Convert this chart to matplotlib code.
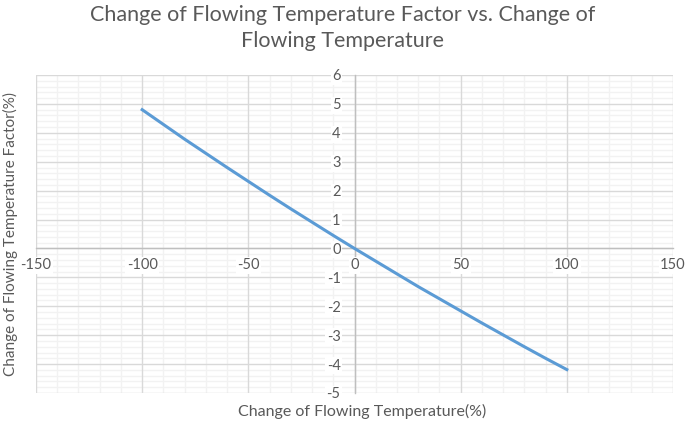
import matplotlib
matplotlib.use("Agg")
import matplotlib.pyplot as plt
from matplotlib.ticker import MultipleLocator

temp_change = [-100, -90, -80, -70, -60, -50, -40, -30, -20, -10, 0,
               10, 20, 30, 40, 50, 60, 70, 80, 90, 100]
factor_change = [4.80, 4.29, 3.78, 3.29, 2.80, 2.32, 1.84, 1.37, 0.91, 0.45, 0.0,
                 -0.44, -0.88, -1.32, -1.74, -2.16, -2.58, -2.99, -3.40, -3.80, -4.19]
x_ticks = [-150, -100, -50, 0, 50, 100, 150]
y_ticks = [-5, -4, -3, -2, -1, 0, 1, 2, 3, 4, 5, 6]

plt.rcParams['font.family'] = ['Lato', 'DejaVu Sans']
fig = plt.figure(figsize=(6.85, 4.21), dpi=100)
ax = fig.add_axes([36/685, 1-393/421, (673-36)/685, (393-75)/421])

ax.set_xlim(-150, 150)
ax.set_ylim(-5, 6)
ax.xaxis.set_minor_locator(MultipleLocator(10))
ax.yaxis.set_minor_locator(MultipleLocator(0.2))
ax.set_xticks(x_ticks)
ax.set_yticks(y_ticks)

# gridlines drawn as low-zorder lines so tick labels can mask them
for v in ax.get_xticks(minor=True):
    ax.axvline(v, color='#F2F2F2', lw=1.0, zorder=0.1)
for v in ax.get_yticks(minor=True):
    ax.axhline(v, color='#F2F2F2', lw=1.0, zorder=0.1)
for v in x_ticks:
    ax.axvline(v, color='#D9D9D9', lw=1.0, zorder=0.2)
for v in y_ticks:
    ax.axhline(v, color='#D9D9D9', lw=1.0, zorder=0.2)

ax.plot(temp_change, factor_change, color='#5B9BD5', lw=2.2, zorder=5)

for s in ['top', 'right']:
    ax.spines[s].set_visible(False)
ax.spines['left'].set_position(('data', 0))
ax.spines['bottom'].set_position(('data', 0))
for s in ['left', 'bottom']:
    ax.spines[s].set_color('#BFBFBF')
    ax.spines[s].set_linewidth(1.0)
    ax.spines[s].set_zorder(1)

ax.tick_params(which='both', length=0, colors='#595959', labelsize=10.5)
ax.tick_params(axis='x', pad=7)
ax.tick_params(axis='y', pad=10)
ax.set_xticklabels([str(v) for v in x_ticks])
ax.set_yticklabels([str(v) for v in y_ticks])
for lab in ax.get_xticklabels() + ax.get_yticklabels():
    lab.set_bbox(dict(facecolor='white', edgecolor='none', pad=1.0))
ax.xaxis.set_zorder(2)
ax.yaxis.set_zorder(2)

fig.text(0.5, 1-28/421, 'Change of Flowing Temperature Factor vs. Change of\nFlowing Temperature',
         ha='center', va='center', fontsize=15.5, color='#595959', linespacing=1.35)
fig.text(362/685, 1-411/421, 'Change of Flowing Temperature(%)', ha='center', va='center',
         fontsize=11.5, color='#595959')
fig.text(10/685, 1-234/421, 'Change of Flowing Temperature Factor(%)', ha='center', va='center',
         rotation=90, fontsize=11, color='#595959')

fig.savefig('out.png', dpi=100)
